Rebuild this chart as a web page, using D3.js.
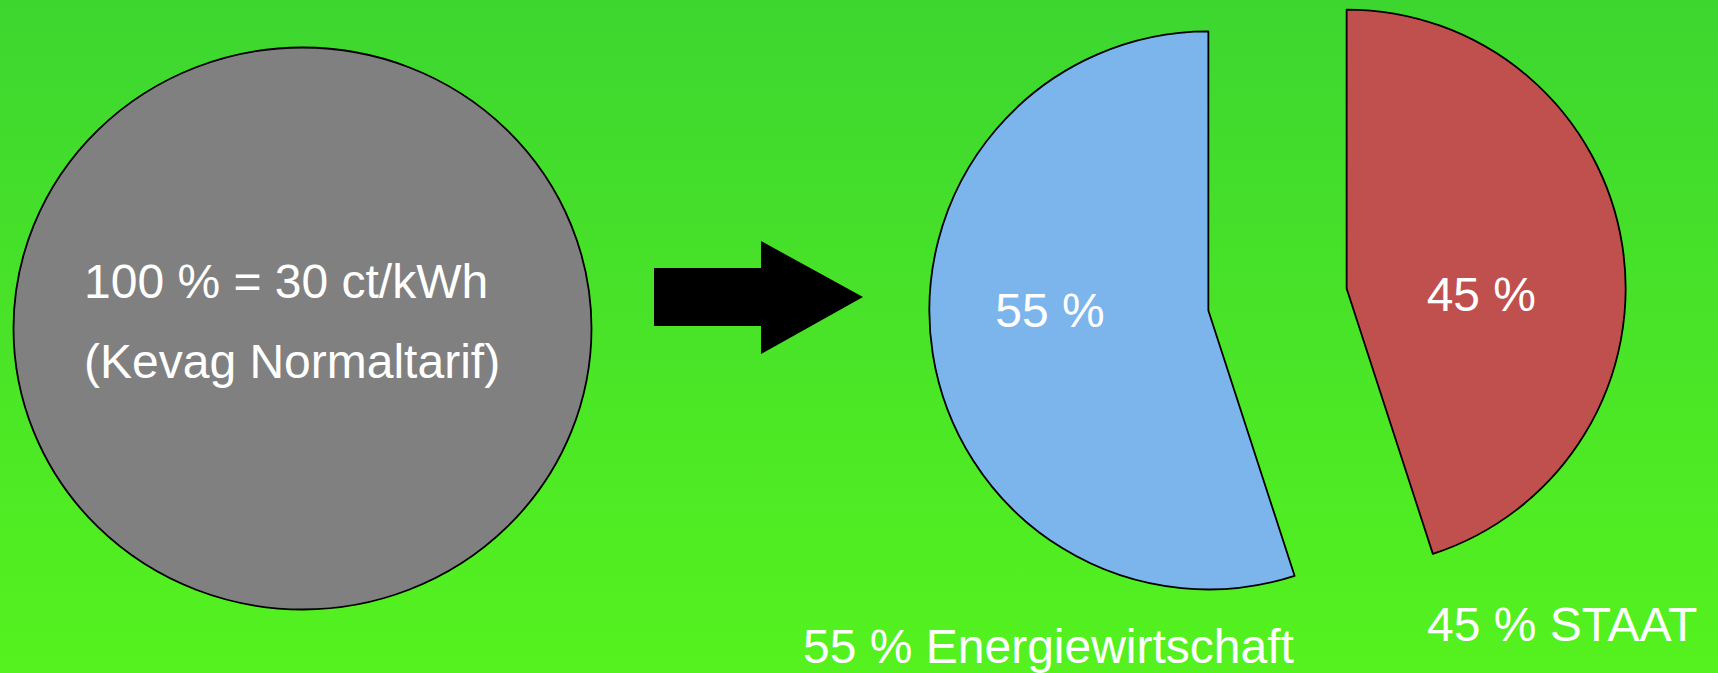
<!DOCTYPE html>
<html>
<head>
<meta charset="utf-8">
<script src="https://cdn.jsdelivr.net/npm/d3@7"></script>
<style>
  html, body { margin: 0; padding: 0; overflow: hidden; }
  svg { display: block; }
  text { font-family: "Liberation Sans", Arial, sans-serif; fill: #fff; }
</style>
</head>
<body>
<div id="chart"></div>
<script>
// Daten
const totalLabel = ["100 % = 30 ct/kWh", "(Kevag Normaltarif)"];
const totalValue = [100];
const shareNames = ["STAAT", "Energiewirtschaft"];
const shareValues = [45, 55];
const shareColors = ["#c0504d", "#7cb5ec"];

const width = 1718;
const height = 673;
const fontSize = 48;

const svg = d3
  .select("#chart")
  .append("svg")
  .attr("width", width)
  .attr("height", height);

// Hintergrund mit Verlauf
const grad = svg
  .append("defs")
  .append("linearGradient")
  .attr("id", "bg")
  .attr("x1", 0)
  .attr("y1", 0)
  .attr("x2", 0)
  .attr("y2", 1);
grad.append("stop").attr("offset", "0%").attr("stop-color", "#3dd630");
grad.append("stop").attr("offset", "100%").attr("stop-color", "#55f21f");

svg
  .append("rect")
  .attr("width", width)
  .attr("height", height)
  .attr("fill", "url(#bg)");

// Linker Kreis (100 %)
const grayR = 289;
const grayG = svg
  .append("g")
  .attr("transform", `translate(302.5,328.5) scale(1,${281 / 289})`);

grayG
  .selectAll("path")
  .data(d3.pie().sort(null)(totalValue))
  .enter()
  .append("path")
  .attr("d", d3.arc().innerRadius(0).outerRadius(grayR))
  .attr("fill", "#808080")
  .attr("stroke", "#000")
  .attr("stroke-width", 1.8);

svg
  .selectAll(".total-label")
  .data(totalLabel)
  .enter()
  .append("text")
  .attr("class", "total-label")
  .attr("x", 84)
  .attr("y", (d, i) => 298 + i * 80)
  .style("font-size", `${fontSize}px`)
  .text((d) => d);

// Pfeil
const arrow = d3.path();
arrow.moveTo(654, 268);
arrow.lineTo(761, 268);
arrow.lineTo(761, 241);
arrow.lineTo(863, 297);
arrow.lineTo(761, 354);
arrow.lineTo(761, 326);
arrow.lineTo(654, 326);
arrow.closePath();
svg.append("path").attr("d", arrow.toString()).attr("fill", "#000");

// Explodiertes Kreisdiagramm
const pieR = 279;
const baseX = 1277.5;
const baseY = 299.5;
const explode = 70;

const arcs = d3.pie().sort(null)(shareValues);
const arc = d3.arc().innerRadius(0).outerRadius(pieR);

function offset(d) {
  const a = (d.startAngle + d.endAngle) / 2;
  return [baseX + Math.sin(a) * explode, baseY - Math.cos(a) * explode];
}

const slices = svg
  .selectAll(".slice")
  .data(arcs)
  .enter()
  .append("g")
  .attr("class", "slice")
  .attr("transform", (d) => `translate(${offset(d)})`);

slices
  .append("path")
  .attr("d", arc)
  .attr("fill", (d, i) => shareColors[i])
  .attr("stroke", "#000")
  .attr("stroke-width", 1.8)
  .attr("stroke-linejoin", "round");

// Prozentwerte in den Segmenten
const innerPos = [
  [80, 22],
  [-213, 17],
];
slices
  .append("text")
  .attr("x", (d, i) => innerPos[i][0])
  .attr("y", (d, i) => innerPos[i][1])
  .style("font-size", `${fontSize}px`)
  .text((d) => `${d.value} %`);

// Beschriftungen unten
const outerPos = [
  [1427, 641],
  [803, 663],
];
svg
  .selectAll(".share-label")
  .data(arcs)
  .enter()
  .append("text")
  .attr("class", "share-label")
  .attr("x", (d, i) => outerPos[i][0])
  .attr("y", (d, i) => outerPos[i][1])
  .style("font-size", `${fontSize}px`)
  .text((d, i) => `${d.value} % ${shareNames[i]}`);
</script>
</body>
</html>
